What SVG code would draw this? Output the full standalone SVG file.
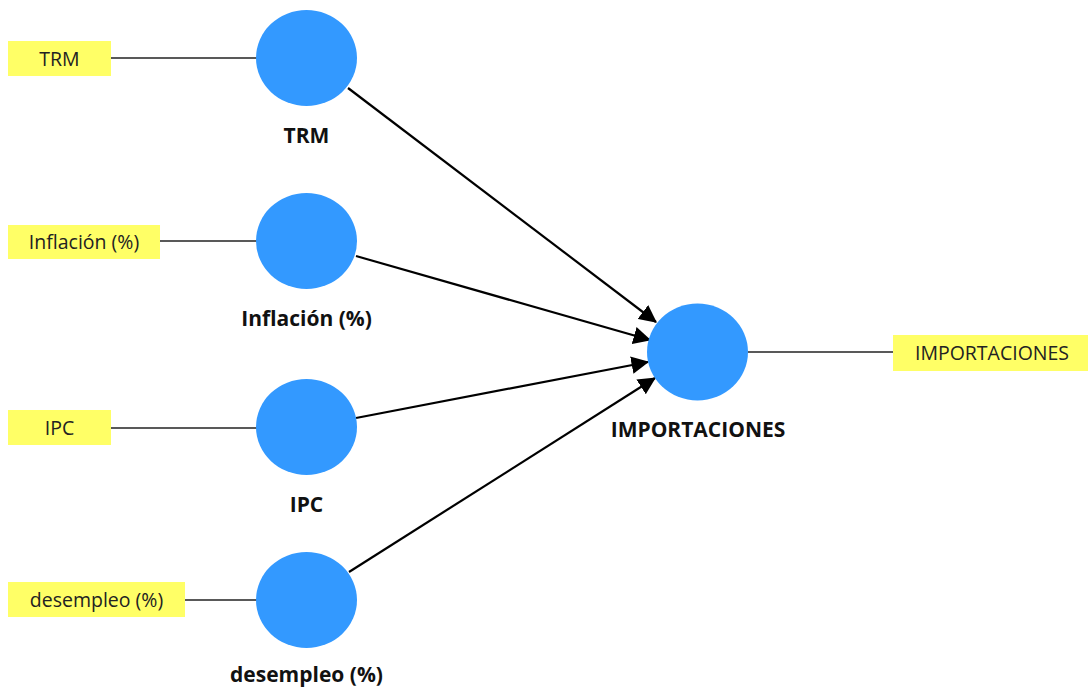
<svg xmlns="http://www.w3.org/2000/svg" width="1088" height="688" viewBox="0 0 1088 688">
<style>
.bg{fill:#ffffff}
.lv{fill:#3399ff}
.ind{fill:#ffff66}
.it{font-family:"Open Sans","DejaVu Sans",sans-serif;font-size:19.5px;fill:#222;text-anchor:middle}
.lt{font-family:"Open Sans","DejaVu Sans",sans-serif;font-size:21px;font-weight:bold;fill:#111;text-anchor:middle}
.ld{stroke:#222;stroke-width:1.3;fill:none}
.path{stroke:#000;stroke-width:2.2;fill:none;marker-end:url(#ah)}
</style>
<defs>
<marker id="ah" markerWidth="8" markerHeight="8" refX="7.5" refY="4" orient="auto" markerUnits="strokeWidth">
<path d="M0,0 L8,4 L0,8 Z" fill="#000"/>
</marker>
</defs>
<rect class="bg" x="0" y="0" width="1088" height="688"/>
<g id="connectors">
<line class="ld" x1="111" y1="58" x2="257" y2="58"/>
<line class="ld" x1="160" y1="241" x2="257" y2="241"/>
<line class="ld" x1="111" y1="428" x2="257" y2="428"/>
<line class="ld" x1="185" y1="600" x2="257" y2="600"/>
<line class="ld" x1="748" y1="352" x2="893" y2="352"/>
<line class="path" x1="348" y1="88" x2="656" y2="322"/>
<line class="path" x1="356" y1="256" x2="650" y2="340"/>
<line class="path" x1="356" y1="418" x2="648" y2="362"/>
<line class="path" x1="349" y1="572" x2="655" y2="378"/>
</g>
<g id="node-trm">
<ellipse class="lv" cx="306.5" cy="58" rx="50.5" ry="48"/>
<text class="lt" x="306.5" y="143">TRM</text>
</g>
<g id="ind-trm">
<rect class="ind" x="8" y="41" width="103" height="35"/>
<text class="it" x="59.5" y="66">TRM</text>
</g>
<g id="node-inflacion">
<ellipse class="lv" cx="306.5" cy="241" rx="50.5" ry="48"/>
<text class="lt" x="306.5" y="326">Inflación (%)</text>
</g>
<g id="ind-inflacion">
<rect class="ind" x="8" y="225" width="152" height="34"/>
<text class="it" x="84" y="249">Inflación (%)</text>
</g>
<g id="node-ipc">
<ellipse class="lv" cx="306.5" cy="427" rx="50.5" ry="48"/>
<text class="lt" x="306.5" y="512">IPC</text>
</g>
<g id="ind-ipc">
<rect class="ind" x="8" y="410" width="103" height="35"/>
<text class="it" x="59.5" y="435">IPC</text>
</g>
<g id="node-desempleo">
<ellipse class="lv" cx="306.5" cy="600" rx="50.5" ry="48"/>
<text class="lt" x="306.5" y="682">desempleo (%)</text>
</g>
<g id="ind-desempleo">
<rect class="ind" x="8" y="582" width="177" height="35"/>
<text class="it" x="96.5" y="607">desempleo (%)</text>
</g>
<g id="node-importaciones">
<ellipse class="lv" cx="697.5" cy="352" rx="50.5" ry="48.5"/>
<text class="lt" x="698" y="437">IMPORTACIONES</text>
</g>
<g id="ind-importaciones">
<rect class="ind" x="893" y="335" width="195" height="36"/>
<text class="it" x="992" y="360">IMPORTACIONES</text>
</g>
</svg>
